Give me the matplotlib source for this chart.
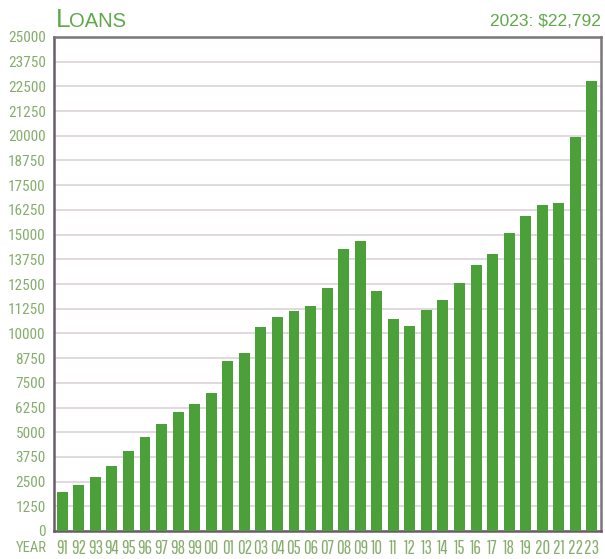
import numpy as np
import matplotlib.pyplot as plt

years = ['91', '92', '93', '94', '95', '96', '97', '98', '99', '00', '01', '02',
         '03', '04', '05', '06', '07', '08', '09', '10', '11', '12', '13', '14',
         '15', '16', '17', '18', '19', '20', '21', '22', '23']
loans = [1990, 2330, 2710, 3270, 4050, 4740, 5400, 6020, 6430, 7000, 8600, 8990,
         10300, 10850, 11130, 11380, 12300, 14260, 14700, 12130, 10710, 10370, 11170, 11670,
         12550, 13450, 14000, 15080, 15950, 16520, 16600, 19920, 22792]
y_ticks = list(range(0, 25001, 1250))

GREEN_BAR = '#4ca03a'
GREEN_TITLE = '#5fa84a'
GREEN_TICK = '#86ad6c'

# condensed faces when present, plain sans otherwise
NARROW = ['Roboto Condensed', 'Liberation Sans', 'DejaVu Sans']
XNARROW = ['Pathway Gothic One', 'Roboto Condensed', 'Liberation Sans', 'DejaVu Sans']
plt.rcParams['font.family'] = NARROW


def plot_loans():
    fig = plt.figure(figsize=(6.05, 5.59), dpi=100)
    ax = fig.add_axes([54 / 605, 28 / 559, 547 / 605, 494 / 559])

    x = np.arange(len(years))
    ax.bar(x, loans, width=0.66, color=GREEN_BAR, zorder=3)

    ax.set_xlim(-0.5, len(years) - 0.45)
    ax.set_ylim(0, 25000)
    ax.set_yticks(y_ticks)
    ax.set_yticklabels([str(v) for v in y_ticks], fontsize=11, color=GREEN_TICK)
    ax.set_xticks(x)
    ax.set_xticklabels(years, fontsize=13.5, color=GREEN_TICK, family=XNARROW)
    ax.tick_params(length=0, pad=6)
    ax.tick_params(axis='x', pad=5.5)

    ax.grid(axis='y', color='#d9d0d3', linewidth=1.1, zorder=0)
    for side in ['top', 'right']:
        ax.spines[side].set_color('#7a7579')
        ax.spines[side].set_linewidth(1.8)
    for side in ['left', 'bottom']:
        ax.spines[side].set_color('#6a5a6a')
        ax.spines[side].set_linewidth(1.8)

    fig.text(16 / 605, 1 - 548 / 559, 'YEAR', fontsize=10.5, color=GREEN_TICK,
             va='center', ha='left')

    # small caps title
    fig.text(56 / 605, 1 - 27 / 559, 'L', fontsize=19, color=GREEN_TITLE,
             family='Liberation Sans', va='baseline', ha='left')
    fig.text(69 / 605, 1 - 27 / 559, 'OANS', fontsize=14.5, color=GREEN_TITLE,
             family='Liberation Sans', va='baseline', ha='left')
    fig.text(601 / 605, 1 - 26 / 559, '2023: $22,792', fontsize=12.5, color=GREEN_TITLE,
             family=['Liberation Sans', 'DejaVu Sans'], va='baseline', ha='right')

    fig.savefig('out.png', dpi=100)


if __name__ == '__main__':
    plot_loans()
